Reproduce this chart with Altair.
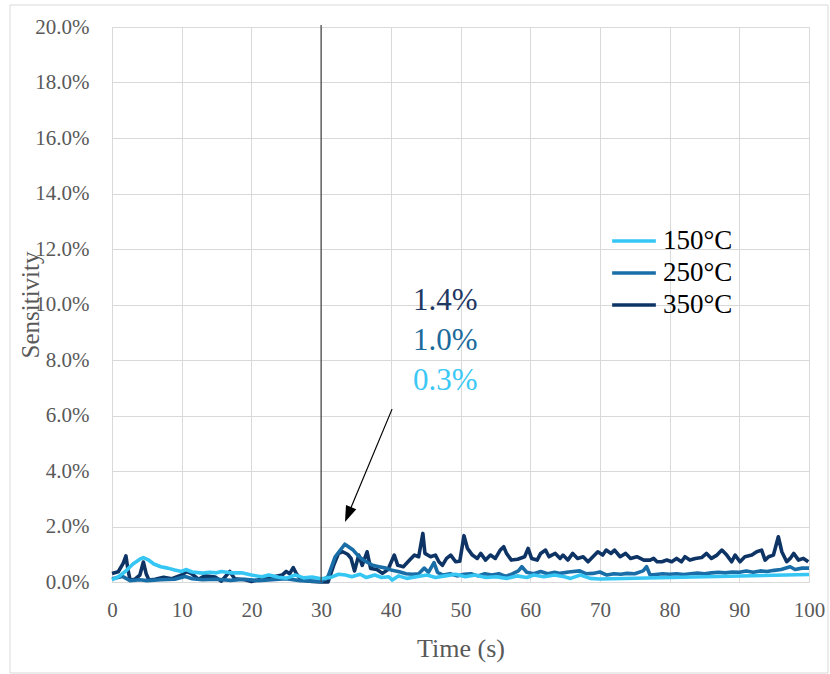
import altair as alt
import pandas as pd

# Series names and line colours
SERIES = ["150°C", "250°C", "350°C"]
COLORS = ["#36C6F4", "#1A6EA8", "#0E3466"]

# Sensitivity responses: (time in s, sensitivity in %)
resp_150 = [
    (0, 0.08), (1, 0.2), (2, 0.4), (3, 0.65), (4, 0.82), (4.5, 0.88), (5.2, 0.8),
    (6, 0.65), (7, 0.55), (8, 0.5), (9, 0.43), (10, 0.38), (10.6, 0.45), (11.5, 0.36),
    (13, 0.32), (14, 0.35), (15, 0.33), (15.7, 0.38), (17, 0.33), (18.6, 0.33),
    (20, 0.25), (21.5, 0.19), (22.5, 0.25), (23.9, 0.17), (25, 0.14), (26.3, 0.25),
    (27.5, 0.15), (28.7, 0.18), (30, 0.12), (31.3, 0.16), (32.5, 0.28), (33.5, 0.25),
    (34.4, 0.19), (35.6, 0.28), (36.5, 0.16), (37.7, 0.25), (38.7, 0.16), (39.7, 0.19),
    (40.2, 0.07), (41.1, 0.22), (42.3, 0.13), (43.7, 0.19), (45.2, 0.25), (46.4, 0.16),
    (47.8, 0.22), (49.3, 0.28), (50.7, 0.19), (52.1, 0.25), (53.6, 0.16), (55.1, 0.19),
    (56.6, 0.13), (58.1, 0.22), (59.5, 0.16), (60.5, 0.25), (62, 0.19), (63.5, 0.25),
    (64.9, 0.19), (65.8, 0.13), (67.2, 0.25), (68.6, 0.13), (70, 0.11), (100, 0.27),
]
resp_250 = [
    (0, 0.12), (1.5, 0.2), (2.6, 0.05), (4, 0.08), (5, 0.05), (7, 0.08), (9, 0.1),
    (10.5, 0.2), (11.5, 0.12), (13, 0.08), (15, 0.1), (17, 0.06), (19, 0.1), (21, 0.05),
    (23, 0.08), (25, 0.12), (27, 0.05), (29, 0.03), (30, 0.02), (31, 0.2), (32, 0.9),
    (33.4, 1.36), (34.6, 1.15), (35.3, 0.95), (36, 0.8), (37.4, 0.6), (38.3, 0.55),
    (39.3, 0.5), (40.2, 0.42), (41.2, 0.37), (42.2, 0.3), (43.1, 0.28), (44, 0.3),
    (44.8, 0.5), (45.4, 0.35), (46.2, 0.7), (46.7, 0.35), (47.5, 0.25), (48.5, 0.3),
    (49.5, 0.22), (50.5, 0.28), (51.5, 0.3), (52.5, 0.22), (53.5, 0.3), (54.5, 0.25),
    (55.5, 0.3), (56.5, 0.2), (57.5, 0.3), (58.3, 0.4), (58.8, 0.55), (59.5, 0.35),
    (60.5, 0.3), (61.5, 0.38), (62.5, 0.3), (63.5, 0.35), (64.3, 0.31), (65.5, 0.36),
    (67.1, 0.4), (68, 0.3), (69, 0.31), (70, 0.36), (71, 0.25), (72, 0.3), (73, 0.28),
    (73.9, 0.31), (75, 0.3), (76.2, 0.4), (76.7, 0.55), (77.2, 0.25), (78, 0.27),
    (79, 0.3), (80, 0.28), (81, 0.3), (82, 0.27), (83, 0.3), (84, 0.32), (85, 0.3),
    (86, 0.33), (87, 0.35), (88, 0.33), (89, 0.36), (90, 0.35), (91, 0.4), (92, 0.35),
    (93, 0.4), (94, 0.38), (95, 0.42), (96, 0.45), (97.3, 0.55), (98, 0.45), (99, 0.5),
    (100, 0.5),
]
resp_350 = [
    (0, 0.31), (0.9, 0.37), (1.6, 0.67), (2.0, 0.94), (2.3, 0.43), (2.6, 0.07),
    (3.3, 0.1), (4.0, 0.25), (4.5, 0.72), (4.9, 0.3), (5.3, 0.07), (6.2, 0.1),
    (7.4, 0.17), (8.6, 0.12), (10.0, 0.25), (10.7, 0.38), (11.4, 0.3), (12.4, 0.1),
    (13.3, 0.22), (14.8, 0.18), (15.7, 0.03), (16.9, 0.38), (17.6, 0.12), (19.1, 0.08),
    (20.0, 0.02), (21.5, 0.1), (22.9, 0.17), (24.4, 0.25), (25.0, 0.38), (25.5, 0.3),
    (26.0, 0.52), (26.5, 0.28), (27.2, 0.07), (28.7, 0.02), (30.0, 0.0), (31.0, 0.0),
    (31.8, 0.6), (32.5, 1.03), (33.1, 1.09), (33.8, 1.0), (34.3, 0.85), (34.8, 0.4),
    (35.4, 0.97), (35.9, 0.6), (36.6, 1.09), (37.1, 0.49), (38.0, 0.45), (38.8, 0.31),
    (39.6, 0.45), (40.5, 0.97), (41.0, 0.6), (41.8, 0.55), (42.7, 0.79), (43.4, 0.97),
    (44.0, 0.91), (44.6, 1.75), (44.9, 1.03), (45.7, 0.91), (46.4, 0.97), (46.9, 0.73),
    (47.4, 0.6), (48.0, 0.85), (48.6, 0.97), (49.3, 0.73), (49.9, 0.75), (50.5, 1.67),
    (51.0, 1.21), (51.7, 0.97), (52.4, 0.85), (52.9, 1.03), (53.6, 0.79), (54.3, 0.97),
    (55.0, 0.85), (55.7, 1.15), (56.2, 1.27), (56.6, 1.03), (57.3, 0.79), (58.2, 0.82),
    (59.2, 0.91), (59.7, 1.21), (60.2, 0.85), (61.0, 0.79), (61.5, 1.03), (62.2, 1.15),
    (62.7, 0.91), (63.1, 0.97), (63.6, 1.03), (64.3, 0.85), (64.7, 0.97), (65.4, 0.79),
    (66.1, 1.03), (66.8, 0.85), (67.6, 0.91), (68.3, 0.73), (69.0, 0.91), (69.7, 1.09),
    (70.4, 0.97), (70.9, 1.15), (71.6, 1.03), (72.1, 1.15), (72.9, 0.91), (73.7, 1.03),
    (74.4, 0.85), (75.3, 0.91), (76.3, 0.79), (77.2, 0.79), (77.7, 0.85), (78.2, 0.73),
    (78.9, 0.73), (79.6, 0.79), (80.3, 0.73), (81.0, 0.85), (81.7, 0.73), (82.2, 0.91),
    (82.9, 0.79), (83.7, 0.85), (84.6, 0.88), (85.3, 1.03), (86.0, 0.85), (86.8, 0.97),
    (87.5, 1.15), (88.2, 0.97), (88.9, 0.73), (89.4, 0.97), (90.1, 0.73), (90.8, 0.91),
    (91.8, 0.97), (92.5, 1.09), (93.2, 1.15), (93.7, 0.79), (94.2, 0.91), (94.9, 0.97),
    (95.6, 1.63), (96.1, 1.09), (96.8, 0.73), (97.3, 0.85), (97.8, 1.03), (98.5, 0.79),
    (99.2, 0.85), (99.9, 0.73),
]

# Annotation labels and their colours
LABELS = ["1.4%", "1.0%", "0.3%"]
LABEL_COLORS = ["#1F3864", "#1B6A9C", "#3CC8F4"]
LABEL_X = 43.2
LABEL_Y = [10.13, 8.68, 7.24]

# Arrow pointing at the response onset: (start time, start %, end time, end %)
ARROW = (40.18, 6.23, 33.87, 2.43)
SWITCH_TIME = 30

X_TICKS = list(range(0, 101, 10))
Y_TICKS = list(range(0, 21, 2))

FONT = "Liberation Serif"
GREY = "#595959"
GRID = "#D9D9D9"

rows = []
for name, resp in zip(SERIES, [resp_150, resp_250, resp_350]):
    for t, v in resp:
        rows.append({"time": t, "sens": v, "series": name})
df = pd.DataFrame(rows)

x_scale = alt.Scale(domain=[0, 100], nice=False)
y_scale = alt.Scale(domain=[0, 20], nice=False)

x_enc = alt.X(
    "time:Q",
    scale=x_scale,
    axis=alt.Axis(
        values=X_TICKS, title="Time (s)", labelPadding=17, labelFlush=False,
        titleX=348.5, titleY=74, titleAlign="center", titleBaseline="alphabetic",
        titleFontSize=26,
    ),
)
y_enc = alt.Y(
    "sens:Q",
    scale=y_scale,
    axis=alt.Axis(
        values=Y_TICKS, title="Sensitivity", labelPadding=23, labelFlush=False,
        labelExpr="format(datum.value, '.1f') + '%'",
        titleAngle=270, titleX=-74, titleY=277.5, titleAlign="center",
        titleBaseline="alphabetic", titleFontSize=25,
    ),
)
color_enc = alt.Color(
    "series:N",
    scale=alt.Scale(domain=SERIES, range=COLORS),
    legend=alt.Legend(
        title=None, orient="none", legendX=508.5, legendY=200.5, padding=0,
        symbolType="M-1.9,0H1.9", symbolSize=529, symbolStrokeWidth=3.5,
        labelFont=FONT, labelFontSize=27, labelColor="#000000", labelOffset=15.5,
        rowPadding=4,
    ),
)

# Outer frame around the whole chart
frame = alt.Chart(pd.DataFrame({"k": [0]})).mark_rect(
    fill="transparent", stroke=GRID, strokeWidth=1
).encode(x=alt.value(-102), x2=alt.value(716), y=alt.value(-22), y2=alt.value(646))

lines = [
    alt.Chart(df).transform_filter(alt.datum.series == s).mark_line(
        strokeWidth=3.6, interpolate="linear", strokeJoin="round"
    ).encode(x=x_enc, y=y_enc, color=color_enc)
    for s in ["350°C", "250°C", "150°C"]
]

switch_rule = alt.Chart(pd.DataFrame({"time": [SWITCH_TIME]})).mark_rule(
    color="#404040", strokeWidth=1.2
).encode(x=alt.X("time:Q", scale=x_scale), y=alt.value(-2), y2=alt.value(555))

arrow_df = pd.DataFrame(
    {"time": [ARROW[0]], "sens": [ARROW[1]], "t1": [ARROW[2]], "v1": [ARROW[3]]}
)
arrow_line = alt.Chart(arrow_df).mark_rule(color="#000000", strokeWidth=1.2).encode(
    x=alt.X("time:Q", scale=x_scale), y=alt.Y("sens:Q", scale=y_scale),
    x2="t1:Q", y2="v1:Q"
)
arrow_head = alt.Chart(arrow_df).mark_point(
    shape="M0,-1L-0.7,1L0.7,1Z", size=256, filled=True, color="#000000",
    opacity=1, angle=202.6
).encode(x=alt.X("t1:Q", scale=x_scale), y=alt.Y("v1:Q", scale=y_scale))

labels = [
    alt.Chart(pd.DataFrame({"time": [LABEL_X], "sens": [y], "txt": [txt]})).mark_text(
        align="left", baseline="middle", font=FONT, fontSize=31, color=c
    ).encode(x=alt.X("time:Q", scale=x_scale), y=alt.Y("sens:Q", scale=y_scale),
             text="txt:N")
    for txt, c, y in zip(LABELS, LABEL_COLORS, LABEL_Y)
]

chart = alt.layer(
    *lines, frame, switch_rule, arrow_line, arrow_head, *labels
).properties(
    width=697, height=555,
    autosize=alt.AutoSizeParams(type="none"),
    padding={"left": 112, "top": 27, "right": 21, "bottom": 92},
    background="#FFFFFF",
).configure_view(
    stroke=GRID
).configure_axis(
    grid=True, gridColor=GRID, gridWidth=1, domain=False, ticks=False, tickSize=0,
    labelFont=FONT, labelFontSize=21, labelColor=GREY,
    titleFont=FONT, titleColor=GREY, titleFontWeight="normal",
)

chart.save("out.html", embed_options={"renderer": "svg", "actions": False})
